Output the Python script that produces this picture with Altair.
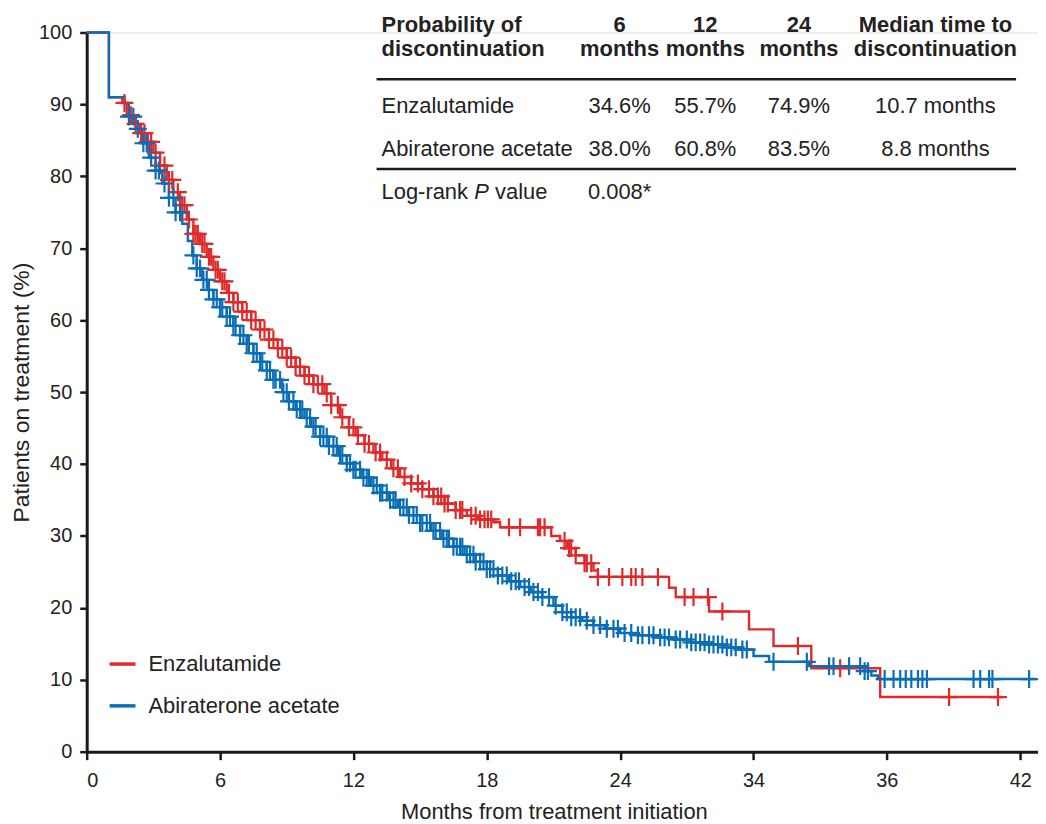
import json
import altair as alt
import numpy as np
import pandas as pd

# ---------------- data ----------------
series_names = ["Enzalutamide", "Abiraterone acetate"]
series_colors = ["#E02A2A", "#0A6EB6"]

enz_t = [0, 1.0, 1.6, 1.8, 2.1, 2.4, 2.7, 3.0, 3.3, 3.6, 3.9, 4.2, 4.5, 4.8, 5.1, 5.4, 5.7,
         6.0, 6.3, 6.6, 7.0, 7.4, 7.8, 8.2, 8.6, 9.0, 9.4, 9.8, 10.2, 10.7, 11.0, 11.4, 11.8,
         12.1, 12.5, 12.9, 13.3, 13.7, 14.1, 14.6, 15.1, 15.6, 16.1, 16.6, 17.1, 17.6, 18.3,
         18.6, 20.9, 21.3, 21.6, 22.0, 22.4, 22.8, 23.0, 26.2, 26.5, 28.0, 29.8, 30.9, 32.6,
         35.7, 41.2]
enz_s = [100, 91.0, 90.2, 88.5, 87.3, 86.0, 84.8, 83.3, 81.5, 79.5, 77.8, 76.0, 74.0, 72.0,
         70.6, 68.8, 67.0, 65.4, 63.8, 62.5, 61.2, 60.0, 58.7, 57.3, 56.1, 54.8, 53.5, 52.3,
         51.1, 49.8, 48.2, 46.5, 45.1, 44.0, 42.8, 41.6, 40.6, 39.4, 38.2, 37.3, 36.5, 35.5,
         34.5, 33.6, 32.8, 32.3, 31.9, 31.2, 30.0, 29.3, 28.3, 27.3, 26.2, 25.2, 24.3, 22.8,
         21.5, 19.5, 17.0, 14.7, 11.6, 7.6, 7.6]

abi_t = [0, 1.0, 1.7, 1.9, 2.2, 2.5, 2.8, 3.1, 3.4, 3.7, 4.0, 4.3, 4.55, 4.75, 4.95, 5.2,
         5.45, 5.7, 6.0, 6.3, 6.6, 6.9, 7.2, 7.5, 7.8, 8.1, 8.4, 8.8, 9.1, 9.4, 9.8, 10.1,
         10.5, 10.9, 11.3, 11.7, 12.0, 12.4, 12.8, 13.2, 13.6, 14.0, 14.5, 15.0, 15.5, 16.0,
         16.5, 17.0, 17.5, 18.0, 18.5, 19.0, 19.5, 20.0, 20.5, 21.0, 21.4, 21.8, 22.3, 22.8,
         23.3, 24.0, 24.8, 25.6, 26.4, 27.2, 28.0, 28.8, 29.4, 30.0, 30.7, 32.5, 35.0, 35.3,
         35.6, 42.7]
abi_s = [100, 91.0, 90.2, 88.3, 86.6, 84.6, 82.6, 80.8, 79.0, 77.0, 75.0, 73.4, 71.0, 69.0,
         67.2, 65.6, 64.2, 62.9, 61.8, 60.5, 59.2, 57.9, 56.7, 55.4, 54.2, 53.0, 51.7, 50.0,
         48.7, 47.6, 46.4, 45.2, 43.8, 42.5, 41.2, 40.1, 39.2, 38.1, 37.0, 36.0, 35.0, 34.0,
         32.9, 31.8, 30.7, 29.6, 28.5, 27.4, 26.4, 25.4, 24.5, 23.7, 22.9, 22.2, 21.5, 20.3,
         19.4, 18.7, 18.2, 17.6, 17.1, 16.5, 16.2, 15.9, 15.6, 15.2, 14.9, 14.5, 14.2, 13.3,
         12.5, 11.9, 11.2, 10.6, 10.1, 10.1]

enz_censor = [1.7, 2.0, 2.2, 2.45, 2.6, 2.75, 2.9, 3.1, 3.3, 3.5, 3.7, 3.85, 4.1, 4.3, 4.4,
              4.6, 4.8, 4.9, 5.0, 5.2, 5.3, 5.5, 5.6, 5.8, 5.9, 6.1, 6.2, 6.4, 6.6, 6.8, 7.0,
              7.2, 7.4, 7.6, 7.8, 8.0, 8.2, 8.4, 8.6, 8.8, 9.0, 9.2, 9.4, 9.6, 9.8, 10.0, 10.2,
              10.4, 10.6, 10.8, 11.0, 11.3, 11.5, 11.8, 12.0, 12.2, 12.5, 12.7, 13.0, 13.2,
              13.5, 13.8, 14.0, 14.3, 14.6, 14.9, 15.1, 15.4, 15.6, 15.8, 15.95, 16.1, 16.25,
              16.6, 16.8, 16.9, 17.3, 17.5, 17.7, 17.9, 18.05, 18.2, 19.0, 19.5, 20.3, 20.4,
              20.6, 21.5, 21.7, 21.8, 22.0, 22.4, 22.5, 22.7, 23.0, 23.5, 24.1, 24.5, 24.7,
              25.0, 25.7, 26.9, 27.3, 27.95, 28.6, 32.0, 33.9, 38.8, 41.0]

abi_censor = [1.9, 2.1, 2.3, 2.55, 2.7, 2.9, 3.1, 3.25, 3.5, 3.7, 3.9, 4.0, 4.2, 4.8, 4.95,
              5.1, 5.25, 5.4, 5.5, 5.7, 5.85, 6.0, 6.1, 6.3, 6.45, 6.6, 6.7, 6.9, 7.05, 7.2,
              7.3, 7.5, 7.65, 7.8, 7.9, 8.1, 8.25, 8.4, 8.5, 8.7, 8.85, 9.0, 9.1, 9.3, 9.45,
              9.6, 9.7, 9.9, 10.05, 10.2, 10.3, 10.5, 10.65, 10.8, 10.9, 11.1, 11.25, 11.4,
              11.5, 11.7, 11.85, 12.0, 12.1, 12.3, 12.45, 12.6, 12.7, 12.9, 13.05, 13.2, 13.3,
              13.5, 13.65, 13.8, 13.9, 14.1, 14.25, 14.4, 14.5, 14.7, 14.85, 15.0, 15.1, 15.3,
              15.45, 15.6, 15.7, 15.9, 16.05, 16.2, 16.3, 16.5, 16.65, 16.8, 16.9, 17.1,
              17.25, 17.4, 17.5, 17.7, 17.85, 18.0, 18.15, 18.3, 18.5, 18.7, 18.9, 19.1, 19.3,
              19.45, 19.7, 19.9, 20.1, 20.3, 20.5, 20.8, 21.1, 21.4, 21.6, 21.8, 22.0, 22.2,
              22.5, 22.8, 23.1, 23.4, 23.7, 23.9, 24.2, 24.5, 24.8, 25.0, 25.3, 25.5, 25.8,
              26.0, 26.2, 26.5, 26.7, 27.0, 27.2, 27.4, 27.6, 27.8, 28.0, 28.2, 28.4, 28.6,
              28.8, 29.0, 29.2, 29.5, 29.7, 30.9, 32.4, 33.4, 33.6, 34.3, 34.8, 35.0, 35.15,
              35.9, 36.3, 36.6, 36.85, 37.1, 37.4, 37.6, 37.8, 39.9, 40.2, 40.6, 40.75, 42.4]

x_tick_values = [0, 6, 12, 18, 24, 30, 36, 42]
x_tick_labels = ["0", "6", "12", "18", "24", "34", "36", "42"]
y_tick_values = [0, 10, 20, 30, 40, 50, 60, 70, 80, 90, 100]

x_title = "Months from treatment initiation"
y_title = "Patients on treatment (%)"

table_header = [["Probability of", "discontinuation"], ["6", "months"], ["12", "months"],
                ["24", "months"], ["Median time to", "discontinuation"]]
table_rows = [["Enzalutamide", "34.6%", "55.7%", "74.9%", "10.7 months"],
              ["Abiraterone acetate", "38.0%", "60.8%", "83.5%", "8.8 months"]]
pvalue_label = ["Log-rank", "P", "value"]
pvalue = "0.008*"

# ---------------- layout ----------------
FONT = "Liberation Sans"
W, H = 955, 722
PAD_L, PAD_T, PAD_R, PAD_B = 79, 23, 0, 70
X_MAX = 42.8

col_x = [296, 535, 621, 715, 852]      # first col left edge, others centers (px from plot origin)
head_y = [-7, 17]
row_y = [74, 117]
prow_y = 160
p_parts_x = [296, 389, 410]
rule_y = [47, 137]
rule_x = [291, 933]
TFS = 22
INK = "#222222"

# ---------------- build tables ----------------
def frame(ts, ss, name):
    return pd.DataFrame({"month": ts, "pct": ss, "series": name})

lines = pd.concat([frame(enz_t, enz_s, series_names[0]),
                   frame(abi_t, abi_s, series_names[1])], ignore_index=True)

def censor_frame(times, ts, ss, name):
    idx = np.searchsorted(np.array(ts), np.array(times), side="right") - 1
    return pd.DataFrame({"month": times, "pct": np.array(ss)[idx], "series": name})

cens = pd.concat([censor_frame(enz_censor, enz_t, enz_s, series_names[0]),
                  censor_frame(abi_censor, abi_t, abi_s, series_names[1])], ignore_index=True)

one = pd.DataFrame({"k": [0]})

color_scale = alt.Scale(domain=series_names, range=series_colors)
x_scale = alt.Scale(domain=[0, X_MAX], nice=False, zero=False)
y_scale = alt.Scale(domain=[0, 100], nice=False)

label_expr = f"{json.dumps(x_tick_labels)}[indexof({json.dumps(x_tick_values)}, datum.value)]"

x_axis = alt.Axis(values=x_tick_values, labelExpr=label_expr, title=x_title, grid=False,
                  domainWidth=3, domainColor="#1a1a1a", tickWidth=2.5, tickSize=8,
                  tickColor="#1a1a1a", labelFontSize=20, labelPadding=11, labelColor=INK,
                  labelFont=FONT, titleFont=FONT, titleFontSize=22, titleFontWeight="normal",
                  titleColor=INK, titleX=469, titleY=60, titleBaseline="middle")
y_axis = alt.Axis(values=y_tick_values, title=y_title, grid=False,
                  domainWidth=3, domainColor="#1a1a1a", tickWidth=2.5, tickSize=7,
                  tickColor="#1a1a1a", labelFontSize=20, labelPadding=8, labelColor=INK,
                  labelFont=FONT, titleFont=FONT, titleFontSize=23, titleFontWeight="normal",
                  titleColor=INK, titleX=-65, titleY=H / 2, titleAngle=-90,
                  titleAlign="center", titleBaseline="middle")

line_layer = alt.Chart(lines).mark_line(interpolate="step-after", strokeWidth=2.4).encode(
    x=alt.X("month:Q", scale=x_scale, axis=x_axis),
    y=alt.Y("pct:Q", scale=y_scale, axis=y_axis),
    color=alt.Color("series:N", scale=color_scale, sort=series_names,
                    legend=alt.Legend(orient="none", legendX=21, legendY=619, title=None,
                                      symbolType="stroke", symbolStrokeWidth=3.5,
                                      symbolSize=676, labelFontSize=22, labelFont=FONT,
                                      labelColor=INK, labelOffset=11, rowPadding=16,
                                      labelLimit=0, padding=0)),
    detail="series:N",
)

cross = "M-1,0L1,0M0,-1L0,1"
censor_layer = alt.Chart(cens).mark_point(shape=cross, filled=False, size=324, strokeWidth=2.2,
                                          opacity=1).encode(
    x=alt.X("month:Q", scale=x_scale),
    y=alt.Y("pct:Q", scale=y_scale),
    color=alt.Color("series:N", scale=color_scale, legend=None),
)

# ---------------- table ----------------
layers = [line_layer, censor_layer]
for yv in rule_y:
    layers.append(alt.Chart(one).mark_rule(color="#1a1a1a", strokeWidth=2.5).encode(
        x=alt.value(rule_x[0]), x2=alt.value(rule_x[1]), y=alt.value(yv)))

def txt(s, x, y, align="center", weight="normal", style="normal"):
    return alt.Chart(one).mark_text(text=s, align=align, baseline="middle", font=FONT,
                                    fontSize=TFS, fontWeight=weight, fontStyle=style,
                                    color=INK).encode(x=alt.value(x), y=alt.value(y))

for ci, pair in enumerate(table_header):
    for li, s in enumerate(pair):
        layers.append(txt(s, col_x[ci], head_y[li], "left" if ci == 0 else "center", "bold"))
for ri, row in enumerate(table_rows):
    for ci, s in enumerate(row):
        layers.append(txt(s, col_x[ci], row_y[ri], "left" if ci == 0 else "center"))
for i, s in enumerate(pvalue_label):
    layers.append(txt(s, p_parts_x[i], prow_y, "left", "normal", "italic" if s == "P" else "normal"))
layers.append(txt(pvalue, col_x[1], prow_y))

chart = alt.layer(*layers).properties(
    width=W, height=H,
    autosize=alt.AutoSizeParams(type="none"),
    padding={"left": PAD_L, "top": PAD_T, "right": PAD_R, "bottom": PAD_B},
).configure_view(stroke=None).configure(font=FONT)

chart.save("out.html", embed_options={"renderer": "svg", "actions": False})
